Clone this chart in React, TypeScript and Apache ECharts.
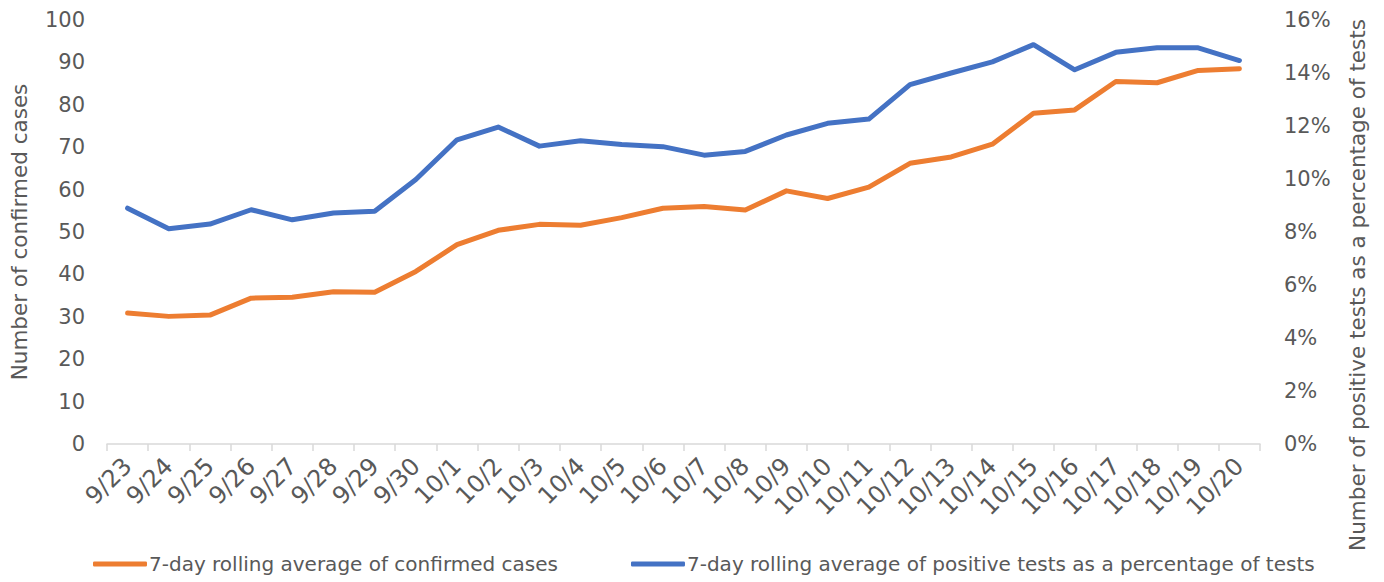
import React, { useEffect, useRef } from "react";
import * as echarts from "echarts";

const categories = [
  "9/23", "9/24", "9/25", "9/26", "9/27", "9/28", "9/29", "9/30",
  "10/1", "10/2", "10/3", "10/4", "10/5", "10/6", "10/7", "10/8",
  "10/9", "10/10", "10/11", "10/12", "10/13", "10/14", "10/15", "10/16",
  "10/17", "10/18", "10/19", "10/20",
];

const confirmedCases = [
  30.9, 30.1, 30.4, 34.4, 34.6, 35.9, 35.8, 40.7,
  47.0, 50.4, 51.8, 51.6, 53.4, 55.6, 56.0, 55.2,
  59.7, 57.9, 60.6, 66.2, 67.7, 70.7, 78.0, 78.8,
  85.5, 85.2, 88.1, 88.5,
];

const positivePct = [
  8.9, 8.12, 8.3, 8.84, 8.46, 8.72, 8.78, 9.98,
  11.48, 11.96, 11.24, 11.44, 11.3, 11.22, 10.9, 11.04,
  11.66, 12.1, 12.26, 13.56, 14.0, 14.42, 15.07, 14.12,
  14.78, 14.95, 14.95, 14.47,
];

const leftTicks = { min: 0, max: 100, interval: 10 };
const rightTicks = { min: 0, max: 16, interval: 2 };

const FONT = "DejaVu Sans";
const GREY = "#595959";

export default function App() {
  const ref = useRef<HTMLDivElement>(null);
  useEffect(() => {
    if (!ref.current) return;
    const chart = echarts.init(ref.current, undefined, { renderer: "svg" });
    chart.setOption({
      animation: false,
      textStyle: { fontFamily: FONT, color: GREY },
      grid: { left: 106, right: 124, top: 20, bottom: 138, containLabel: false },
      legend: {
        bottom: 3,
        left: 88,
        icon: "roundRect",
        itemWidth: 54,
        itemHeight: 5,
        itemGap: 73,
        textStyle: { fontFamily: FONT, fontSize: 20, color: GREY, padding: [0, 0, 0, -3] },
        data: [
          "7-day rolling average of confirmed cases",
          "7-day rolling average of positive tests as a percentage of tests",
        ],
      },
      xAxis: {
        type: "category",
        data: categories,
        boundaryGap: true,
        axisLine: { lineStyle: { color: "#d9d9d9", width: 1.5 } },
        axisTick: { show: true, interval: 0, length: 7, lineStyle: { color: "#d9d9d9", width: 1.5 } },
        axisLabel: { interval: 0, rotate: 45, fontSize: 24, color: GREY, fontFamily: FONT, margin: 18 },
        splitLine: { show: false },
      },
      yAxis: [
        {
          type: "value",
          min: leftTicks.min,
          max: leftTicks.max,
          interval: leftTicks.interval,
          name: "Number of confirmed cases",
          nameLocation: "middle",
          nameGap: 77,
          nameTextStyle: { fontSize: 21.5, color: GREY, fontFamily: FONT },
          axisLine: { show: false },
          axisTick: { show: false },
          splitLine: { show: false },
          axisLabel: { fontSize: 21, color: GREY, fontFamily: FONT, margin: 22 },
        },
        {
          type: "value",
          min: rightTicks.min,
          max: rightTicks.max,
          interval: rightTicks.interval,
          position: "right",
          axisLine: { show: false },
          axisTick: { show: false },
          splitLine: { show: false },
          axisLabel: { fontSize: 21, color: GREY, fontFamily: FONT, margin: 24, formatter: "{value}%" },
        },
      ],
      graphic: [
        {
          type: "text",
          x: 1357,
          y: 285,
          rotation: Math.PI / 2,
          style: {
            text: "Number of positive tests as a percentage of tests",
            fontSize: 21.5,
            fontFamily: FONT,
            fill: GREY,
            align: "center",
            verticalAlign: "middle",
          },
        },
      ],
      series: [
        {
          name: "7-day rolling average of confirmed cases",
          type: "line",
          data: confirmedCases,
          yAxisIndex: 0,
          showSymbol: false,
          symbol: "none",
          lineStyle: { color: "#ED7D31", width: 5, cap: "round", join: "round" },
          itemStyle: { color: "#ED7D31" },
        },
        {
          name: "7-day rolling average of positive tests as a percentage of tests",
          type: "line",
          data: positivePct,
          yAxisIndex: 1,
          showSymbol: false,
          symbol: "none",
          lineStyle: { color: "#4472C4", width: 5, cap: "round", join: "round" },
          itemStyle: { color: "#4472C4" },
        },
      ],
    });
    return () => chart.dispose();
  }, []);
  return <div ref={ref} style={{ width: 1384, height: 582, position: "absolute", left: 0, top: 0 }} />;
}
